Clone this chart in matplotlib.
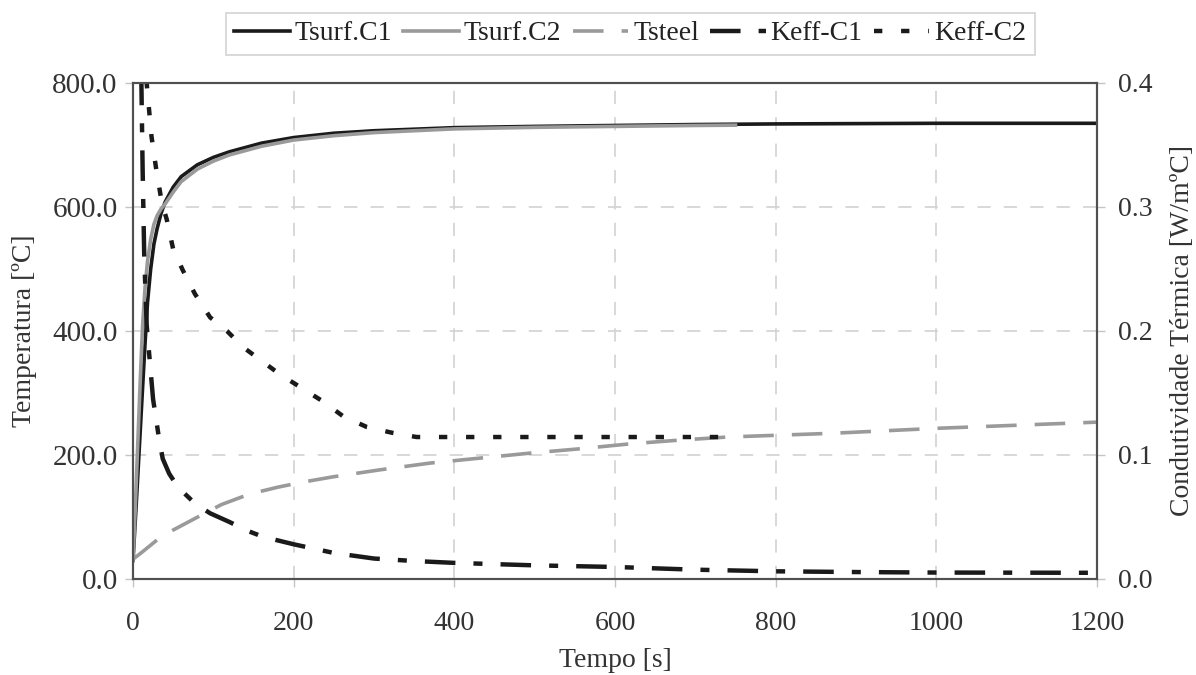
import matplotlib
matplotlib.use("Agg")
import matplotlib.pyplot as plt

plt.rcParams['font.family'] = ['Liberation Serif', 'DejaVu Serif']
plt.rcParams['lines.scale_dashes'] = False

# ---- data ----
t_c1 = [0, 4, 8, 12, 15, 18, 22, 26, 30, 35, 40, 50, 60, 80, 100, 120, 160, 200,
        250, 300, 400, 500, 600, 700, 800, 1000, 1200]
tsurf_c1 = [30, 120, 215, 310, 380, 445, 500, 540, 565, 590, 608, 632, 649, 668, 680,
            689, 703, 712, 719, 723, 728, 730, 731.5, 733, 734, 735, 735]

t_c2 = [0, 3, 6, 9, 12, 15, 18, 22, 26, 30, 35, 40, 50, 60, 80, 100, 120, 160, 200,
        250, 300, 400, 500, 600, 700, 750]
tsurf_c2 = [30, 120, 220, 320, 410, 470, 512, 548, 572, 586, 597, 605, 624, 641, 661,
            674, 684, 698, 708, 715, 720, 726, 728.5, 730, 731.5, 732]

t_steel = [0, 10, 30, 50, 85, 110, 145, 180, 210, 250, 307, 370, 432, 494, 556, 619,
           680, 740, 870, 1000, 1100, 1200]
tsteel = [32, 42, 63, 79, 103, 120, 137, 148, 156, 165, 176, 187, 195, 203, 210, 218,
          224, 229, 235, 243, 248, 253]

t_k1 = [3, 7, 10, 12, 14, 17, 21, 25, 32, 37, 45, 56, 77, 96, 120, 142, 162, 200,
        250, 300, 350, 400, 450, 500, 600, 700, 800, 900, 1000, 1200]
keff_c1 = [0.9, 0.55, 0.42, 0.33, 0.26, 0.205, 0.175, 0.145, 0.115, 0.097, 0.085,
           0.074, 0.061, 0.053, 0.046, 0.039, 0.034, 0.028, 0.021, 0.0165, 0.0145,
           0.013, 0.012, 0.011, 0.0097, 0.0075, 0.0062, 0.0056, 0.0052, 0.005]

t_k2 = [5, 10, 14, 17, 23, 29, 36, 42, 50, 62, 77, 96, 117, 137, 162, 183, 210, 237,
        262, 291, 322, 353, 400, 500, 600, 730]
keff_c2 = [0.6, 0.47, 0.43, 0.40, 0.357, 0.33, 0.303, 0.29, 0.266, 0.249, 0.23, 0.211,
           0.2, 0.187, 0.175, 0.165, 0.154, 0.143, 0.131, 0.1226, 0.118, 0.1145, 0.1145,
           0.1145, 0.1145, 0.1145]

x_ticks = [0, 200, 400, 600, 800, 1000, 1200]
y_ticks = [0, 200, 400, 600, 800]
y2_ticks = [0.0, 0.1, 0.2, 0.3, 0.4]

# ---- figure ----
fig = plt.figure(figsize=(11.96, 6.75), dpi=100)
ax = fig.add_axes([133/1196, 1-579/675, (1097-133)/1196, (579-83)/675])
ax2 = ax.twinx()

GRAY = '#9a9a9a'
l1, = ax.plot(t_c1, tsurf_c1, color='#1a1a1a', lw=2.6, label='Tsurf.C1', zorder=4)
l2, = ax.plot(t_c2, tsurf_c2, color=GRAY, lw=2.6, label='Tsurf.C2', zorder=5)
l3, = ax.plot(t_steel, tsteel, color=GRAY, lw=2.6, dashes=(22, 13),
              dash_capstyle='butt', label='Tsteel', zorder=3)
l4, = ax2.plot(t_k1, keff_c1, color='#1a1a1a', lw=3.2, dashes=(22, 13, 6.5, 13),
               dash_capstyle='butt', label='Keff-C1')
l5, = ax2.plot(t_k2, keff_c2, color='#1a1a1a', lw=3.2, dashes=(6, 13.5),
               dash_capstyle='butt', label='Keff-C2')

ax.set_xlim(0, 1200)
ax.set_ylim(0, 800)
ax2.set_ylim(0, 0.4)
ax.set_xticks(x_ticks)
ax.set_yticks(y_ticks)
ax.set_yticklabels([f"{v:.1f}" for v in y_ticks])
ax2.set_yticks(y2_ticks)
ax2.set_yticklabels([f"{v:.1f}" for v in y2_ticks])

ax.grid(True, color='#d2d2d2', lw=1.2, dashes=(9.5, 9.5))
ax.set_axisbelow(True)

for a in (ax, ax2):
    for s in a.spines.values():
        s.set_color('#505050')
        s.set_linewidth(1.5)

ax.tick_params(axis='both', direction='out', length=6, width=1.0, color='#c4c4c4',
               labelsize=20, labelcolor='#333333')
ax.tick_params(axis='x', pad=17)
ax.tick_params(axis='y', pad=5, labelsize=21)
ax2.tick_params(axis='y', direction='out', length=6, width=1.0, color='#c4c4c4',
                labelsize=20, labelcolor='#333333', pad=9)

ax.set_xlabel('Tempo [s]', fontsize=20, color='#333333')
ax.set_ylabel('Temperatura [ºC]', fontsize=20, color='#333333')
ax2.set_ylabel('Condutividade Térmica [W/mºC]', fontsize=20, color='#333333')
ax.xaxis.set_label_coords(0.5, -0.140)
ax.yaxis.set_label_coords(-0.100, 0.5)
ax2.yaxis.set_label_coords(1.076, 0.5)

leg = fig.legend(handles=[l1, l2, l3, l4, l5], loc='center', ncol=5,
                 bbox_to_anchor=(0.527, 0.95), fontsize=20, frameon=True,
                 fancybox=False, edgecolor='#c8c8c8', handlelength=2.0,
                 handletextpad=0.18, columnspacing=0.4, borderpad=0.3,
                 borderaxespad=0)
leg.get_frame().set_linewidth(1.2)
for txt in leg.get_texts():
    txt.set_color('#222222')

fig.savefig('out.png', dpi=100)
